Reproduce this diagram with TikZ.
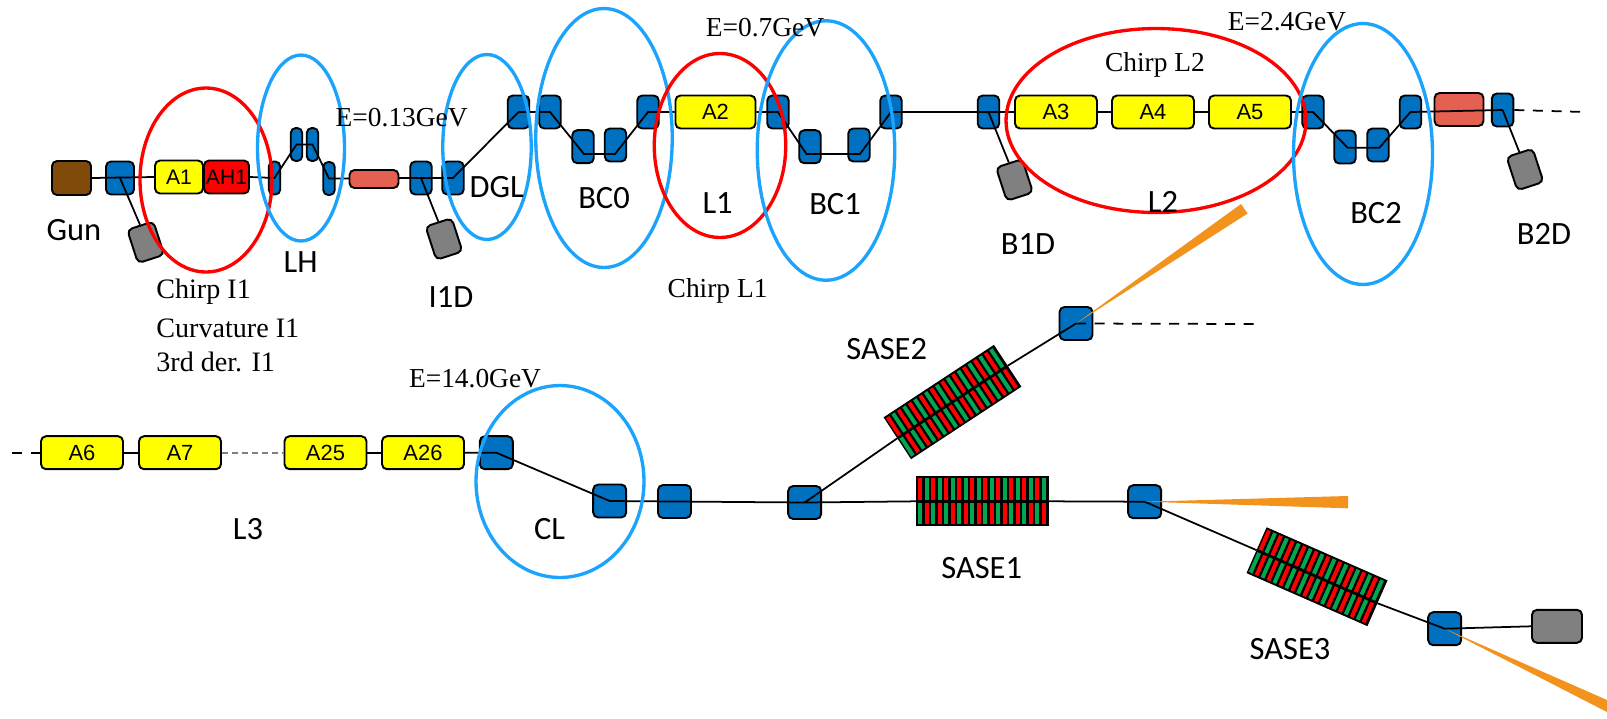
\documentclass[tikz,border=0pt]{standalone}
\usepackage{fontspec}
\usetikzlibrary{shapes.geometric}
\newfontfamily\fontcal{Carlito}
\newfontfamily\fontari{Liberation Sans}
\newfontfamily\fontser{Liberation Serif}
\definecolor{magblu}{HTML}{0070C0}
\definecolor{cerblu}{HTML}{1CA3FC}
\definecolor{giallo}{HTML}{FFFF00}
\definecolor{rosso}{HTML}{FF0000}
\definecolor{salmone}{HTML}{E46050}
\definecolor{grigio}{HTML}{808080}
\definecolor{marrone}{HTML}{7F4A0A}
\definecolor{arancio}{HTML}{F2931E}
\definecolor{verde}{HTML}{00A650}
\tikzset{
	% magnete (blu)
	mag/.style={draw, line width=1.1pt, rectangle, rounded corners=1mm, fill=magblu, inner sep=0pt,
	            minimum width=0.43cm, minimum height=0.66cm},
	magl/.style={mag, minimum width=0.66cm},
	magt/.style={mag, minimum width=0.23cm},
	% modulo acceleratore
	acc/.style={draw, line width=1.1pt, rectangle, rounded corners=1mm, fill=giallo, inner sep=0pt,
	            minimum width=1.64cm, minimum height=0.66cm, font=\fontari\fontsize{12.5}{14}\selectfont},
	% cannone
	gun/.style={draw, line width=1.1pt, rectangle, rounded corners=1mm, fill=marrone, inner sep=0pt,
	            minimum width=0.78cm, minimum height=0.68cm},
	% beam dump
	dump/.style={draw, line width=1.1pt, rectangle, rounded corners=1mm, fill=grigio, inner sep=0pt,
	             minimum width=0.55cm, minimum height=0.7cm, rotate=18},
	% riscaldatore
	heat/.style={draw, line width=1.1pt, rectangle, rounded corners=1mm, fill=salmone, inner sep=0pt,
	             minimum width=0.98cm},
	% ondulatore
	ond/.style={draw, fill=black, line width=0.6pt, rectangle, inner sep=0pt,
	            minimum width=2.62cm, minimum height=0.98cm},
	% fascio
	fascio/.style={line width=1pt},
	tratt/.style={line width=1pt, dash pattern=on 5.7pt off 4.9pt},
	% ellissi
	cerb/.style={draw=cerblu, line width=1.9pt, ellipse, inner sep=0pt},
	cerr/.style={draw=rosso, line width=1.9pt, ellipse, inner sep=0pt},
	% testi
	lab/.style={inner sep=0pt, font=\fontcal\fontsize{18.5}{20}\selectfont},
	ser/.style={inner sep=0pt, font=\fontser\fontsize{15.6}{18}\selectfont},
	serl/.style={ser, anchor=west, font=\fontser\fontsize{16}{18}\selectfont},
	% luce
	luce/.style={fill=arancio},
}
% barre dell'ondulatore
\newcommand{\barre}[2]{%
	\begin{scope}[shift={(#1.center)}, rotate=#2]
		\foreach \i in {0,...,19}{
			\pgfmathsetmacro{\xa}{-64.5+6.5*\i}
			\ifodd\i
				\fill[verde] (\xa,-23) rectangle ++(4,21.5);
				\fill[rosso] (\xa,1.5) rectangle ++(4,21.5);
			\else
				\fill[rosso] (\xa,-23) rectangle ++(4,21.5);
				\fill[verde] (\xa,1.5) rectangle ++(4,21.5);
			\fi
		}
	\end{scope}
}

\begin{document}
\begin{tikzpicture}[x=0.02cm, y=-0.02cm]
    \useasboundingbox (0,0) rectangle (1607,718);

    % iniettore
    \node[gun] (cann) at (71.5,178) {};
    \node[mag, minimum width=0.56cm] (q1) at (120,178) {};
    \node[dump] (d1) at (145.7,242.3) {};
    \node[acc, minimum width=0.96cm, font=\fontari\fontsize{12}{14}\selectfont] (a1) at (179,177) {A1};
    \node[acc, fill=rosso, minimum width=0.9cm, font=\fontari\fontsize{12}{14}\selectfont] (ah1) at (226.5,177) {AH1};
    \node[magt] (lha) at (274.5,178) {};
    \node[magt] (lhb) at (296.5,144.5) {};
    \node[magt] (lhc) at (312.5,144.5) {};
    \node[magt] (lhd) at (329,178.5) {};
    \node[mag] (i1) at (421,178) {};
    \node[dump] (d2) at (444,239) {};
    \node[mag] (dga) at (453,178) {};

    % BC0, L1, BC1
    \node[mag] (dgb) at (518.5,112) {};
    \node[mag] (b0a) at (550,112) {};
    \node[mag] (b0b) at (583,146.7) {};
    \node[mag] (b0c) at (615.5,145) {};
    \node[mag] (b0d) at (648,112) {};
    \node[acc, minimum width=1.6cm] (a2) at (715.5,112) {A2};
    \node[mag] (b1a) at (778,112) {};
    \node[mag] (b1b) at (810,146.7) {};
    \node[mag] (b1c) at (859,145) {};
    \node[mag] (b1d) at (891,112) {};
    \node[mag] (qb1) at (988.5,112) {};
    \node[dump] (d3) at (1014.5,180) {};

    % L2, BC2
    \node[acc] (a3) at (1056,112) {A3};
    \node[acc] (a4) at (1153,112) {A4};
    \node[acc] (a5) at (1250,112) {A5};
    \node[mag] (b2a) at (1313,112) {};
    \node[mag] (b2b) at (1345,147) {};
    \node[mag] (b2c) at (1378,145) {};
    \node[mag] (b2d) at (1410.5,112) {};
    \node[heat, minimum height=0.66cm] (h2) at (1459,109.5) {};
    \node[mag] (qb2) at (1502.6,110) {};
    \node[dump] (d4) at (1525,169.5) {};

    % L3, CL
    \node[acc] (a6) at (82,452.7) {A6};
    \node[acc] (a7) at (180,452.7) {A7};
    \node[acc] (a25) at (325.5,452.7) {A25};
    \node[acc] (a26) at (423,452.7) {A26};
    \node[magl] (cla) at (496.3,452.7) {};
    \node[magl] (clb) at (609.7,501) {};
    \node[magl] (qs0) at (674.5,501.5) {};
    \node[magl] (qs1) at (804.7,502.5) {};
    \node[magl] (qs2) at (1076,323.5) {};
    \node[magl] (qs3) at (1144.7,501.7) {};
    \node[magl] (qs4) at (1444.7,628.7) {};
    \node[dump, rotate=-18, minimum width=1cm, minimum height=0.66cm] (d5) at (1557,626.3) {};

    % ondulatori
    \node[ond] (sase1) at (982.5,501.3) {};
    \node[ond, rotate=33.3] (sase2) at (952.5,402) {};
    \node[ond, rotate=-23.7] (sase3) at (1317,576.7) {};
    \barre{sase1}{0}
    \barre{sase2}{33.3}
    \barre{sase3}{-23.7}

    % punti del fascio
    \coordinate (p0a) at (584,154);
    \coordinate (p0b) at (615,154);
    \coordinate (p1a) at (806.5,154);
    \coordinate (p1b) at (860,154);
    \coordinate (p2a) at (1347.6,147.7);
    \coordinate (p2b) at (1379.4,147.7);
    \coordinate (fine) at (1585,112);
    \coordinate (fine2) at (1256,324);
    \coordinate (ini3) at (11.5,452.7);

    % fascio
    \draw[fascio] (cann.east) -- (a1.west);
    \draw[fascio] (ah1.east) -- (lha.center) -- (lhb.center) -- (lhc.center) -- (lhd.center) -- (i1.center) -- (dga.center) -- (dgb.center) -- (b0a.center) -- (p0a) -- (p0b) -- (b0d.center) -- (a2.west);
    \draw[fascio] (a2.east) -- (b1a.center) -- (p1a) -- (p1b) -- (b1d.center) -- (a3.west);
    \draw[fascio] (a3.east) -- (a4.west);
    \draw[fascio] (a4.east) -- (a5.west);
    \draw[fascio] (a5.east) -- (b2a.center) -- (p2a) -- (p2b) -- (b2d.center) -- (qb2.center);
    \draw[fascio] (q1.center) -- (d1.north);
    \draw[fascio] (i1.center) -- (d2.north);
    \draw[fascio] (qb1.center) -- (d3.north);
    \draw[fascio] (qb2.center) -- (d4.north);
    \draw[tratt] (qb2.east) -- (fine);
    \draw[tratt, dash pattern=on 6.2pt off 5pt] (ini3) -- (a6.west);
    \draw[fascio] (a6.east) -- (a7.west);
    \draw[fascio, grigio, dash pattern=on 3.4pt off 2.3pt] (a7.east) -- (a25.west);
    \draw[fascio] (a25.east) -- (a26.west);
    \draw[fascio] (a26.east) -- (cla.center) -- (clb.center) -- (qs1.center) -- (sase1.west);
    \draw[fascio] (sase1.east) -- (qs3.center) -- (sase3.west);
    \draw[fascio] (sase3.east) -- (qs4.center) -- (d5.west);
    \draw[fascio] (qs1.center) -- (sase2.west);
    \draw[fascio] (sase2.east) -- (qs2.center);
    \draw[tratt] (qs2.center) -- (fine2);

    % riscaldatore sopra il fascio
    \node[heat, minimum height=0.36cm] (h1) at (374,179) {};

    % luce
    \fill[luce] (qs2.center) -- (1241,204) -- (1247.6,213.5) -- cycle;
    \fill[luce] (qs3.center) -- (1348,496) -- (1348,508.3) -- cycle;
    \fill[luce] (qs4.center) -- (1607,700) -- (1607,712) -- cycle;

    % ellissi
    \node[cerr, minimum width=2.64cm, minimum height=3.68cm] (ei1) at (206,180) {};
    \node[cerb, minimum width=1.74cm, minimum height=3.72cm] (elh) at (301,148) {};
    \node[cerb, minimum width=1.77cm, minimum height=3.7cm] (edg) at (487,147) {};
    \node[cerb, minimum width=2.73cm, minimum height=5.18cm] (eb0) at (604,138) {};
    \node[cerr, minimum width=2.63cm, minimum height=3.68cm] (el1) at (720,145.5) {};
    \node[cerb, minimum width=2.75cm, minimum height=5.19cm] (eb1) at (826,150.5) {};
    \node[cerr, minimum width=6cm, minimum height=3.68cm] (el2) at (1156,120.5) {};
    \node[cerb, minimum width=2.78cm, minimum height=5.22cm] (eb2) at (1363,154) {};
    \node[cerb, minimum width=3.36cm, minimum height=3.84cm] (ecl) at (560,481.5) {};

    % etichette
    \node[lab] (tgun) at (74,230) {Gun};
    \node[lab] (tlh) at (300.7,262) {LH};
    \node[lab] (ti1d) at (451,297) {I1D};
    \node[lab] (tdgl) at (496.7,187) {DGL};
    \node[lab] (tbc0) at (604,198) {BC0};
    \node[lab] (tl1) at (717.6,203) {L1};
    \node[lab] (tbc1) at (835,204) {BC1};
    \node[lab] (tb1d) at (1028,244) {B1D};
    \node[lab] (tl2) at (1163,202) {L2};
    \node[lab] (tbc2) at (1376,213) {BC2};
    \node[lab] (tb2d) at (1544,234) {B2D};
    \node[lab] (tl3) at (248,529) {L3};
    \node[lab] (tcl) at (549.6,529) {CL};
    \node[lab] (ts1) at (981.7,568) {SASE1};
    \node[lab] (ts2) at (886.7,349) {SASE2};
    \node[lab] (ts3) at (1290,649.3) {SASE3};

    \node[ser] (e013) at (401.7,118) {E=0.13GeV};
    \node[ser] (e07) at (765,28) {E=0.7GeV};
    \node[ser] (e24) at (1287,22) {E=2.4GeV};
    \node[ser] (e14) at (475,379) {E=14.0GeV};
    \node[ser] (cl1) at (717.6,291) {Chirp L1};
    \node[ser] (cl2) at (1155,65) {Chirp L2};
    \node[serl] (ci1) at (156,292) {Chirp I1};
    \node[serl] (cu1) at (156,328) {Curvature I1};
    \node[serl] (td1) at (156,362) {3rd der. I1};
\end{tikzpicture}
\end{document}
